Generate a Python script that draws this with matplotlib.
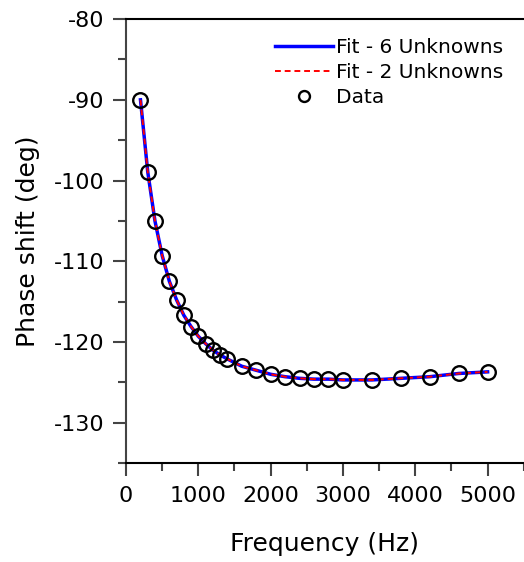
import matplotlib
matplotlib.use("Agg")
from matplotlib import pyplot as plt
from matplotlib.ticker import MultipleLocator

freq = [200, 300, 400, 500, 600, 700, 800, 900, 1000, 1100, 1200, 1300, 1400,
        1600, 1800, 2000, 2200, 2400, 2600, 2800, 3000, 3400, 3800, 4200, 4600, 5000]
phase = [-90.0, -98.9, -105.0, -109.3, -112.5, -114.8, -116.7, -118.1, -119.3, -120.2,
         -121.0, -121.6, -122.1, -123.0, -123.5, -124.0, -124.3, -124.5, -124.6,
         -124.6, -124.7, -124.7, -124.5, -124.3, -123.9, -123.7]

# fitted curves
fit6 = [-90.0, -98.9, -105.0, -109.3, -112.5, -114.8, -116.7, -118.1, -119.3, -120.2,
        -121.0, -121.6, -122.1, -123.0, -123.5, -124.0, -124.3, -124.5, -124.6,
        -124.6, -124.7, -124.7, -124.5, -124.3, -123.9, -123.7]
fit2 = [-90.0, -98.9, -105.0, -109.3, -112.5, -114.8, -116.7, -118.1, -119.3, -120.2,
        -121.0, -121.6, -122.1, -123.0, -123.5, -124.0, -124.3, -124.5, -124.6,
        -124.6, -124.7, -124.7, -124.5, -124.3, -123.9, -123.7]

plt.rcParams['font.family'] = ['DejaVu Sans']
plt.rcParams['axes.unicode_minus'] = False

fig = plt.figure(figsize=(5.24, 5.62), dpi=100)
ax = fig.add_axes([0.2405, 0.176, 0.759, 0.79])

ax.plot(freq, fit6, color='blue', lw=2.5, label='Fit - 6 Unknowns')
ax.plot(freq, fit2, color='red', lw=1.4, ls=(0, (3, 2)), label='Fit - 2 Unknowns')
ax.plot(freq, phase, ls='none', marker='o', ms=10.5, mfc='none', mec='black',
        mew=1.7, label='Data')

ax.set_xlim(0, 5500)
ax.set_ylim(-135, -80)
ax.xaxis.set_major_locator(MultipleLocator(1000))
ax.xaxis.set_minor_locator(MultipleLocator(500))
ax.yaxis.set_major_locator(MultipleLocator(10))
ax.yaxis.set_minor_locator(MultipleLocator(5))
ax.set_xticks([0, 1000, 2000, 3000, 4000, 5000])

ax.spines['right'].set_visible(False)
for s in ['left', 'bottom', 'top']:
    ax.spines[s].set_linewidth(1.5)
ax.spines['left'].set_color('#444444')
ax.tick_params(which='major', direction='out', length=9.5, width=1.5,
               labelsize=16, color='#444444', top=False, right=False)
ax.tick_params(which='minor', direction='out', length=5.5, width=1.5,
               color='#444444', top=False, right=False)
ax.tick_params(axis='x', pad=7)
ax.tick_params(axis='y', pad=6)

ax.set_xlabel('Frequency (Hz)', fontsize=18, labelpad=19)
ax.set_ylabel('Phase shift (deg)', fontsize=18, labelpad=10)

ax.legend(loc='upper right', frameon=False, fontsize=14.5, handlelength=2.9,
          handletextpad=0.15, labelspacing=0.3, borderaxespad=0.3,
          markerscale=0.75, bbox_to_anchor=(0.985, 0.99))

fig.savefig('out.png', dpi=100)
